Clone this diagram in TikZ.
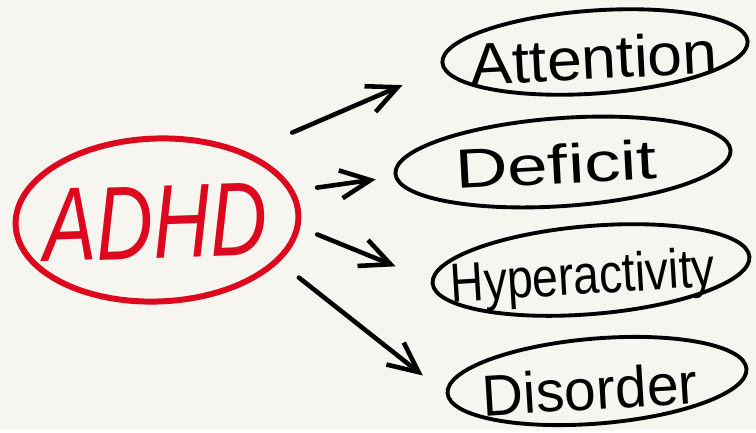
\documentclass[tikz,border=0pt]{standalone}
\usepackage{fontspec}
\setmainfont{Liberation Sans}
\usepackage{graphicx}
\usetikzlibrary{shapes.geometric,arrows.meta}
\definecolor{paper}{RGB}{246,245,240}
\definecolor{markerred}{RGB}{221,8,30}
\def\hand#1#2#3{\resizebox{#1}{#2}{#3}}
\tikzset{
  bubble/.style={ellipse, draw, line width=2.2pt, inner sep=0pt},
  arr/.style={line width=2.6pt, line cap=round, line join=round, -{Straight Barb[length=6mm, width=5.6mm]}}
}

\begin{document}
\begin{tikzpicture}[x=0.02cm, y=-0.02cm]
		%%%%% START %%%%%
		
		\fill[paper] (0, 0) rectangle (756, 430);
		
		% left circle
		\node[bubble, draw=markerred, line width=3.4pt, minimum width=5.66cm, minimum height=3.26cm, rotate=2] (adhd) at (157, 220) {};
		\node[text=markerred, rotate=2] (adhdtext) at (155, 222) {\hand{4.48cm}{1.44cm}{\itshape ADHD}};
		
		% right ellipses
		\node[bubble, minimum width=6.12cm, minimum height=1.66cm, rotate=4] (att) at (595, 52) {};
		\node[rotate=3] (atttext) at (594, 58) {\hand{4.94cm}{0.86cm}{Attention}};
		
		\node[bubble, minimum width=6.72cm, minimum height=1.76cm, rotate=4] (def) at (563, 162) {};
		\node[rotate=3] (deftext) at (556, 164) {\hand{4.04cm}{0.8cm}{Deficit}};
		
		\node[bubble, minimum width=6.36cm, minimum height=1.76cm, rotate=4.8] (hyp) at (591, 270) {};
		\node[rotate=3.5] (hyptext) at (583, 280) {\hand{5.3cm}{0.8cm}{Hyperactivity}};
		
		\node[bubble, minimum width=6cm, minimum height=1.7cm, rotate=4.7] (dis) at (597, 381) {};
		\node[rotate=3.5] (distext) at (590, 389) {\hand{4.3cm}{0.84cm}{Disorder}};
		
		% arrows
		\draw[arr, shorten <=0.98cm, shorten >=0.86cm] (adhd.35) -- (att.182);
		\draw[arr, shorten <=0.46cm, shorten >=0.37cm] (adhd.10) -- (def.181);
		\draw[arr, shorten <=0.37cm, shorten >=0.76cm] (adhd.-5) -- (hyp.179);
		\draw[arr, shorten <=0.5cm, shorten >=0.58cm] (adhd.-21) -- (dis.180);
		
		%%%%% END %%%%%
	\end{tikzpicture}
\end{document}
